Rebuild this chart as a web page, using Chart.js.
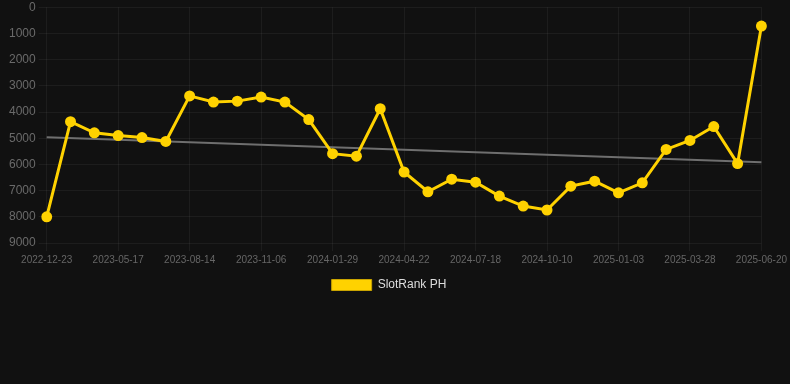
<!DOCTYPE html>
<html>
<head>
<meta charset="utf-8">
<script src="https://cdn.jsdelivr.net/npm/chart.js@4"></script>
<style>
  html, body { margin: 0; padding: 0; background: #111111; width: 790px; height: 384px; overflow: hidden; }
  #wrap { position: relative; width: 790px; height: 301px; }
</style>
</head>
<body>
<div id="wrap"><canvas id="c"></canvas></div>
<script>
const dateLabels = [
  "2022-12-23", "2023-02-10", "2023-03-30", "2023-05-17", "2023-06-16", "2023-07-15",
  "2023-08-14", "2023-09-11", "2023-10-09", "2023-11-06", "2023-12-04", "2024-01-01",
  "2024-01-29", "2024-02-26", "2024-03-25", "2024-04-22", "2024-05-21", "2024-06-19",
  "2024-07-18", "2024-08-15", "2024-09-12", "2024-10-10", "2024-11-07", "2024-12-06",
  "2025-01-03", "2025-01-31", "2025-02-28", "2025-03-28", "2025-04-25", "2025-05-23",
  "2025-06-20"
];
const rankValues = [
  8000, 4370, 4795, 4900, 4975, 5125,
  3385, 3620, 3585, 3430, 3620, 4290,
  5590, 5685, 3875, 6290, 7045, 6565,
  6680, 7210, 7590, 7740, 6830, 6640,
  7085, 6705, 5430, 5085, 4555, 5970,
  720
];
const trendStart = 4960;
const trendEnd = 5920;
const yTicks = [0, 1000, 2000, 3000, 4000, 5000, 6000, 7000, 8000, 9000];

const trendValues = dateLabels.map((_, i) => i === 0 ? trendStart : (i === dateLabels.length - 1 ? trendEnd : null));

new Chart(document.getElementById('c'), {
  type: 'line',
  data: {
    labels: dateLabels,
    datasets: [
      {
        label: 'SlotRank PH',
        data: rankValues,
        borderColor: '#ffd200',
        backgroundColor: '#ffd200',
        borderWidth: 3,
        pointRadius: 5.5,
        pointBackgroundColor: '#ffd200',
        pointBorderColor: '#ffd200',
        pointBorderWidth: 0,
        tension: 0,
        fill: false
      },
      {
        label: 'trend',
        data: trendValues,
        borderColor: '#6f6f6f',
        borderWidth: 2,
        pointRadius: 0,
        spanGaps: true,
        fill: false
      }
    ]
  },
  options: {
    responsive: true,
    maintainAspectRatio: false,
    animation: false,
    layout: { padding: { left: 6, right: 18, top: 0, bottom: 0 } },
    plugins: {
      legend: {
        position: 'bottom',
        labels: {
          color: '#dddddd',
          boxWidth: 40,
          boxHeight: 11,
          font: { family: 'Arial, "Liberation Sans", sans-serif', size: 12 },
          filter: (item) => item.text !== 'trend',
          generateLabels: (chart) => Chart.defaults.plugins.legend.labels.generateLabels(chart).map(l => Object.assign(l, { lineWidth: 1, strokeStyle: '#c9a400' }))
        }
      },
      tooltip: { enabled: false }
    },
    scales: {
      x: {
        offset: false,
        grid: { color: 'rgba(255,255,255,0.05)', drawTicks: true, tickLength: 8 },
        border: { display: false },
        ticks: {
          color: '#666666',
          maxRotation: 0,
          autoSkip: true,
          maxTicksLimit: 11,
          font: { family: 'Arial, "Liberation Sans", sans-serif', size: 10 }
        }
      },
      y: {
        reverse: true,
        min: yTicks[0],
        max: yTicks[yTicks.length - 1],
        grid: { color: 'rgba(255,255,255,0.05)', tickLength: 8 },
        border: { display: false },
        afterBuildTicks: (axis) => { axis.ticks = yTicks.map(v => ({ value: v })); },
        ticks: {
          color: '#6a6a6a',
          callback: (v) => String(v),
          font: { family: 'Arial, "Liberation Sans", sans-serif', size: 12, lineHeight: 0.7 }
        }
      }
    }
  }
});
</script>
</body>
</html>
